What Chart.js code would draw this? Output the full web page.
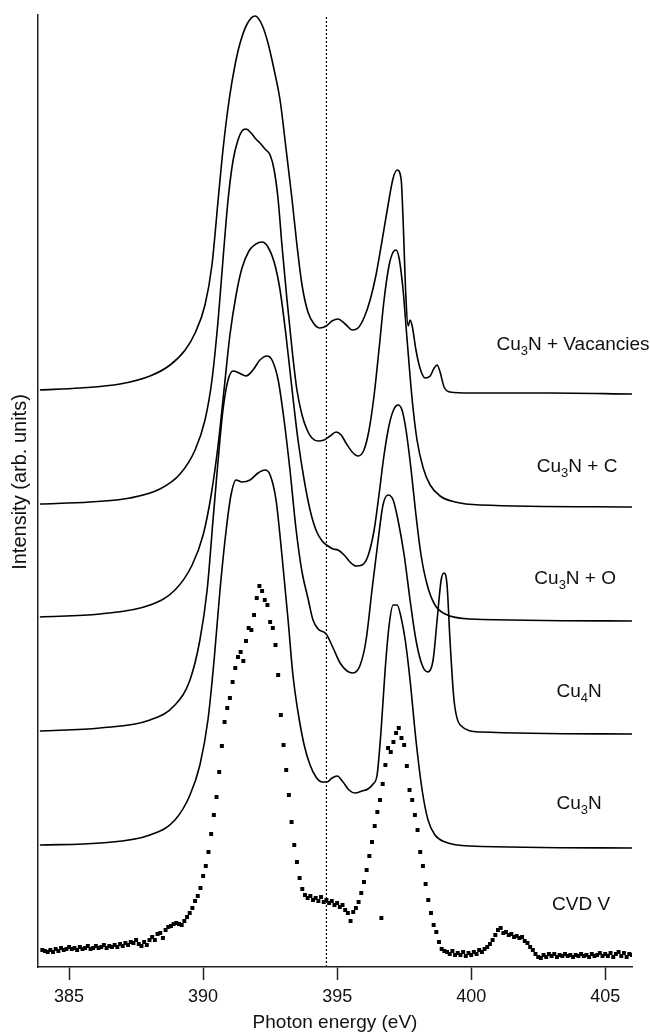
<!DOCTYPE html>
<html lang="en">
<head>
<meta charset="UTF-8">
<title>N K-edge spectra – Cu3N</title>
<script src="https://cdn.jsdelivr.net/npm/chart.js"></script>
<style>
  html, body { margin: 0; padding: 0; background: #fff; }
  #wrap { width: 650px; height: 1035px; }
</style>
</head>
<body>
<div id="wrap"><canvas id="chart" width="650" height="1035"></canvas></div>
<script>
// photon energy (eV) vs intensity (arb. units, curves stacked with offsets as in the figure)
const energyTicks = [385, 390, 395, 400, 405];
const markerEnergy = 394.6;

const vacanciesCurve = [
  [383.91,577],[385.41,579],[386.90,583],[388.02,591],[388.77,602],[389.33,617],[389.70,634],[390.07,662],
  [390.33,702],[390.56,767],[390.74,817],[390.97,867],[391.19,902],[391.38,924],[391.64,943],[391.94,951],
  [392.20,942],[392.42,924],[392.65,897],[392.87,867],[393.09,819],[393.32,767],[393.50,722],[393.69,682],
  [393.91,655],[394.14,643],[394.36,639],[394.59,641],[394.81,646],[395.03,648],[395.30,643],[395.56,637],
  [395.78,639],[396.00,649],[396.23,667],[396.45,692],[396.68,727],[396.90,762],[397.09,789],[397.24,797],
  [397.39,787],[397.46,747],[397.57,667],[397.65,641],[397.72,647],[397.80,641],[397.94,617],[398.09,599],
  [398.28,589],[398.47,591],[398.62,599],[398.73,602],[398.84,595],[398.99,580],[399.21,575],[399.96,574],
  [402.94,574],[406.00,573]
];

const carbonCurve = [
  [383.91,463],[385.78,465],[387.27,469],[388.39,478],[389.14,493],[389.70,517],[390.07,547],[390.33,587],
  [390.56,647],[390.74,707],[390.93,767],[391.12,807],[391.30,827],[391.45,836],[391.60,838],[391.79,834],
  [391.97,828],[392.12,824],[392.31,818],[392.50,812],[392.65,797],[392.80,767],[392.94,722],[393.13,667],
  [393.32,617],[393.50,577],[393.69,552],[393.88,537],[394.06,529],[394.29,526],[394.51,527],[394.74,531],
  [394.96,535],[395.15,532],[395.33,524],[395.56,515],[395.78,511],[396.00,517],[396.19,537],[396.38,572],
  [396.56,617],[396.75,667],[396.94,702],[397.09,715],[397.20,717],[397.31,709],[397.46,677],[397.61,627],
  [397.80,567],[397.98,527],[398.21,499],[398.47,482],[398.84,471],[399.40,465],[400.33,462],[406.00,460]
];

const oxygenCurve = [
  [383.91,350],[386.15,353],[388.02,362],[388.95,377],[389.59,402],[390.00,432],[390.30,472],[390.56,522],
  [390.78,577],[391.00,632],[391.23,672],[391.45,699],[391.71,716],[391.97,723],[392.20,725],[392.42,720],
  [392.65,705],[392.87,677],[393.09,632],[393.32,577],[393.54,527],[393.77,487],[393.99,457],[394.21,437],
  [394.44,426],[394.66,421],[394.85,418],[395.03,417],[395.26,412],[395.48,405],[395.71,401],[395.93,402],
  [396.15,411],[396.38,437],[396.56,472],[396.75,512],[396.94,542],[397.12,558],[397.27,562],[397.42,557],
  [397.57,537],[397.76,497],[397.94,452],[398.13,412],[398.36,382],[398.65,362],[399.03,353],[399.96,348],
  [406.00,346]
];

const cu4nCurve = [
  [383.91,236],[386.15,239],[388.02,247],[388.95,262],[389.51,287],[389.88,327],[390.15,377],[390.37,447],
  [390.56,507],[390.74,557],[390.93,587],[391.12,596],[391.34,594],[391.60,591],[391.86,597],[392.12,607],
  [392.38,611],[392.57,607],[392.80,587],[393.02,547],[393.24,497],[393.47,437],[393.69,395],[393.91,369],
  [394.10,347],[394.29,338],[394.59,333],[394.85,319],[395.11,304],[395.37,296],[395.59,294],[395.86,302],
  [396.08,327],[396.30,377],[396.53,427],[396.71,462],[396.90,472],[397.09,467],[397.27,447],[397.50,412],
  [397.72,367],[397.94,327],[398.17,302],[398.39,295],[398.58,307],[398.73,347],[398.88,387],[398.99,394],
  [399.10,382],[399.21,327],[399.36,267],[399.59,242],[400.33,235],[406.00,233]
];

const cu3nCurve = [
  [383.91,122],[386.15,124],[388.02,132],[388.95,147],[389.51,172],[389.88,202],[390.18,247],[390.41,307],
  [390.63,377],[390.86,437],[391.04,472],[391.23,487],[391.45,485],[391.75,487],[392.05,494],[392.31,497],
  [392.50,492],[392.72,467],[392.94,412],[393.17,347],[393.35,292],[393.54,255],[393.77,222],[393.99,202],
  [394.21,190],[394.44,185],[394.62,185],[394.81,189],[395.00,191],[395.22,185],[395.44,177],[395.67,174],
  [395.93,176],[396.15,178],[396.34,183],[396.49,192],[396.64,237],[396.79,297],[396.94,342],[397.09,362],
  [397.24,362],[397.39,349],[397.54,327],[397.72,287],[397.94,227],[398.17,177],[398.39,147],[398.65,132],
  [399.03,125],[399.96,121],[406.00,119]
];

// CVD V measurement: one reading every 0.1 eV from 384.0 eV
const cvdStart = 384.0;
const cvdStep = 0.1;
const cvdCounts = [
  17,16,15,17,15,18,16,19,17,18,
  20,18,19,17,20,18,19,21,18,19,
  21,19,20,22,19,21,20,22,20,23,
  21,24,22,25,24,27,23,21,25,22,
  27,30,27,33,34,29,37,40,41,43,
  44,43,42,46,50,54,59,66,71,79,
  91,101,115,133,152,170,195,221,245,259,
  269,285,299,310,315,306,326,339,337,352,
  369,381,376,367,362,345,339,322,292,252,
  222,197,172,145,122,105,89,78,72,69,
  71,67,69,66,70,65,67,64,66,62,
  64,60,62,57,54,46,55,59,65,74,
  85,97,111,125,141,155,167,183,202,219,
  215,225,234,239,229,222,201,177,167,152,
  137,115,101,83,67,54,42,35,25,18,
  16,15,13,16,12,14,12,15,11,14,
  12,15,13,17,15,18,20,23,27,32,
  37,39,34,35,32,33,30,31,29,30,
  26,24,20,17,13,10,9,12,10,13,
  11,13,10,12,11,13,11,12,10,12,
  11,13,11,12,10,13,11,12,14,11,
  13,11,14,10,13,15,11,14,10,13,
  12
];
const cvdStray = [[396.65, 49]];

const curveLabels = ['Cu_3N + Vacancies', 'Cu_3N + C', 'Cu_3N + O', 'Cu_4N', 'Cu_3N', 'CVD V'];

// where the curve names sit (data units: centre energy, text baseline)
const labelEnergies = [403.80, 403.95, 403.88, 404.03, 404.03, 404.10];
const labelLevels = [617, 495, 383, 270, 158, 57];
const yTitleLevel = 485;

const FONT = '"Liberation Sans", Arial, Helvetica, sans-serif';

function toPoints(pairs) {
  return pairs.map(p => ({ x: p[0], y: p[1] }));
}

const cvdPoints = cvdCounts.map((v, i) => ({ x: +(cvdStart + i * cvdStep).toFixed(2), y: v }))
  .concat(toPoints(cvdStray));

function curveDataset(pairs) {
  return {
    data: toPoints(pairs),
    showLine: true,
    borderColor: '#000',
    borderWidth: 1.6,
    pointRadius: 0,
    cubicInterpolationMode: 'monotone',
    fill: false
  };
}

const labelPlugin = {
  id: 'curveLabels',
  afterDatasetsDraw(chart) {
    const ctx = chart.ctx;
    const xs = chart.scales.x, ys = chart.scales.y;
    ctx.save();
    ctx.fillStyle = '#111';
    ctx.textBaseline = 'alphabetic';
    curveLabels.forEach((txt, i) => {
      // split "Cu_3N" into normal / subscript parts
      const parts = [];
      txt.split(/_(\d)/).forEach((s, k) => { if (s) parts.push({ s: s, sub: k % 2 === 1 }); });
      let total = 0;
      parts.forEach(p => {
        ctx.font = (p.sub ? 13 : 19) + 'px ' + FONT;
        p.w = ctx.measureText(p.s).width;
        total += p.w;
      });
      let x = xs.getPixelForValue(labelEnergies[i]) - total / 2;
      const y = ys.getPixelForValue(labelLevels[i]);
      parts.forEach(p => {
        ctx.font = (p.sub ? 13 : 19) + 'px ' + FONT;
        ctx.fillText(p.s, x, p.sub ? y + 5 : y);
        x += p.w;
      });
    });

    // y axis title
    ctx.translate(20, ys.getPixelForValue(yTitleLevel));
    ctx.rotate(-Math.PI / 2);
    ctx.font = '20px ' + FONT;
    ctx.textAlign = 'center';
    ctx.textBaseline = 'middle';
    ctx.fillText('Intensity (arb. units)', 0, 0);
    ctx.restore();
  }
};

new Chart(document.getElementById('chart'), {
  type: 'scatter',
  data: {
    datasets: [
      {
        data: [{ x: markerEnergy, y: 0 }, { x: markerEnergy, y: 952 }],
        showLine: true,
        borderColor: '#000',
        borderWidth: 1.2,
        borderDash: [2, 2],
        pointRadius: 0
      },
      curveDataset(vacanciesCurve),
      curveDataset(carbonCurve),
      curveDataset(oxygenCurve),
      curveDataset(cu4nCurve),
      curveDataset(cu3nCurve),
      {
        data: cvdPoints,
        showLine: false,
        pointStyle: 'rect',
        pointRadius: 2.8,
        pointBackgroundColor: '#000',
        pointBorderWidth: 0
      }
    ]
  },
  options: {
    responsive: false,
    animation: false,
    layout: { padding: { top: 15, right: 18, left: 8, bottom: 0 } },
    plugins: { legend: { display: false }, tooltip: { enabled: false } },
    scales: {
      x: {
        type: 'linear',
        min: 383.84,
        max: 406.0,
        afterBuildTicks: s => { s.ticks = energyTicks.map(v => ({ value: v })); },
        afterFit: s => { s.height = 68; },
        grid: { display: true, drawOnChartArea: false, drawTicks: true, tickLength: 13, tickColor: '#222', tickWidth: 1.5 },
        border: { display: true, color: '#222', width: 1.5 },
        ticks: { color: '#111', font: { family: FONT, size: 18 }, padding: 6, maxRotation: 0 },
        title: { display: true, text: 'Photon energy (eV)', color: '#111', font: { family: FONT, size: 19 }, padding: { top: 0, bottom: 1 } }
      },
      y: {
        type: 'linear',
        min: 0,
        max: 952,
        afterFit: s => { s.width = 30; },
        ticks: { display: false },
        grid: { display: true, drawOnChartArea: false, drawTicks: false },
        border: { display: true, color: '#222', width: 1.5 },
        title: { display: false }
      }
    }
  },
  plugins: [labelPlugin]
});
</script>
</body>
</html>
